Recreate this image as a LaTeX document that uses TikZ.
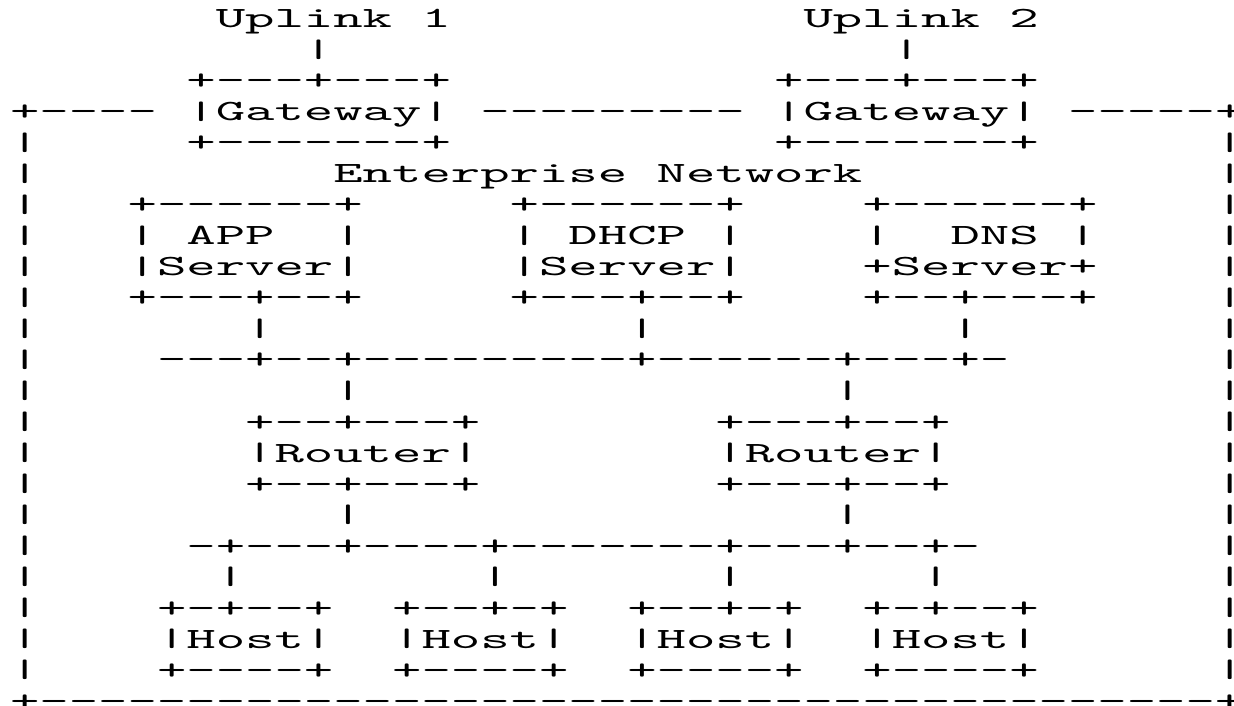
\documentclass[tikz,border=0pt]{standalone}
\usepackage{fontspec}
\setmonofont{lmmono10-regular.otf}
% barra vertical mas corta
\newcommand{\vb}{\raisebox{0.06em}{\scalebox{1}[0.86]{|}}}

\begin{document}
\begin{tikzpicture}[
                x=14.695pt,
                y=-15.5pt,
                asc/.style={
                        font=\fontsize{14.7pt}{15pt}\selectfont\ttfamily,
                        inner sep=0pt,
                        anchor=base west,
                        xscale=1.904
                    }
            ]
            \useasboundingbox (-0.316,-0.903) rectangle (41.67,21.839);

            % Enlaces
            \node[asc] (up1) at (7,0) {Uplink~1};
            \node[asc] (up2) at (27,0) {Uplink~2};
            \node[asc] (up1w) at (10,1) {\vb};
            \node[asc] (up2w) at (30,1) {\vb};

            % Pasarelas y borde superior
            \node[asc] (gw1top) at (6,2) {+---+---+};
            \node[asc] (gw2top) at (26,2) {+---+---+};
            \node[asc] (netTL) at (0,3) {+----};
            \node[asc] (gw1) at (6,3) {\vb Gateway\vb};
            \node[asc] (netT) at (16,3) {---------};
            \node[asc] (gw2) at (26,3) {\vb Gateway\vb};
            \node[asc] (netTR) at (36,3) {-----+};
            \node[asc] (gw1bot) at (6,4) {+-------+};
            \node[asc] (gw2bot) at (26,4) {+-------+};
            \node[asc] (net) at (11,5) {Enterprise~Network};

            % Servidores
            \node[asc] (apptop) at (4,6) {+------+};
            \node[asc] (dhcptop) at (17,6) {+------+};
            \node[asc] (dnstop) at (29,6) {+------+};
            \node[asc] (app) at (4,7) {\vb~APP~~\vb};
            \node[asc] (dhcp) at (17,7) {\vb~DHCP~\vb};
            \node[asc] (dns) at (29,7) {\vb~~DNS~\vb};
            \node[asc] (appsrv) at (4,8) {\vb Server\vb};
            \node[asc] (dhcpsrv) at (17,8) {\vb Server\vb};
            \node[asc] (dnssrv) at (29,8) {+Server+};
            \node[asc] (appbot) at (4,9) {+---+--+};
            \node[asc] (dhcpbot) at (17,9) {+---+--+};
            \node[asc] (dnsbot) at (29,9) {+--+---+};
            \node[asc] (appw) at (8,10) {\vb};
            \node[asc] (dhcpw) at (21,10) {\vb};
            \node[asc] (dnsw) at (32,10) {\vb};
            \node[asc] (srvbus) at (5,11) {---+--+---------+------+---+-};

            % Routers
            \node[asc] (rt1w) at (11,12) {\vb};
            \node[asc] (rt2w) at (28,12) {\vb};
            \node[asc] (rt1top) at (8,13) {+--+---+};
            \node[asc] (rt2top) at (24,13) {+---+--+};
            \node[asc] (rt1) at (8,14) {\vb Router\vb};
            \node[asc] (rt2) at (24,14) {\vb Router\vb};
            \node[asc] (rt1bot) at (8,15) {+--+---+};
            \node[asc] (rt2bot) at (24,15) {+---+--+};
            \node[asc] (rt1wb) at (11,16) {\vb};
            \node[asc] (rt2wb) at (28,16) {\vb};
            \node[asc] (hostbus) at (6,17) {-+---+----+-------+---+--+-};

            % Hosts
            \node[asc] (h1w) at (7,18) {\vb};
            \node[asc] (h2w) at (16,18) {\vb};
            \node[asc] (h3w) at (24,18) {\vb};
            \node[asc] (h4w) at (31,18) {\vb};
            \node[asc] (h1top) at (5,19) {+-+--+};
            \node[asc] (h2top) at (13,19) {+--+-+};
            \node[asc] (h3top) at (21,19) {+--+-+};
            \node[asc] (h4top) at (29,19) {+-+--+};
            \node[asc] (h1) at (5,20) {\vb Host\vb};
            \node[asc] (h2) at (13,20) {\vb Host\vb};
            \node[asc] (h3) at (21,20) {\vb Host\vb};
            \node[asc] (h4) at (29,20) {\vb Host\vb};
            \node[asc] (h1bot) at (5,21) {+----+};
            \node[asc] (h2bot) at (13,21) {+----+};
            \node[asc] (h3bot) at (21,21) {+----+};
            \node[asc] (h4bot) at (29,21) {+----+};

            % Borde de la red
            \foreach \r in {4,...,21} {
                \node[asc] (lb\r) at (0,\r) {\vb};
                \node[asc] (rb\r) at (41,\r) {\vb};
            }
            \node[asc] (netB) at (0,22) {+----------------------------------------+};

        \end{tikzpicture}
\end{document}
